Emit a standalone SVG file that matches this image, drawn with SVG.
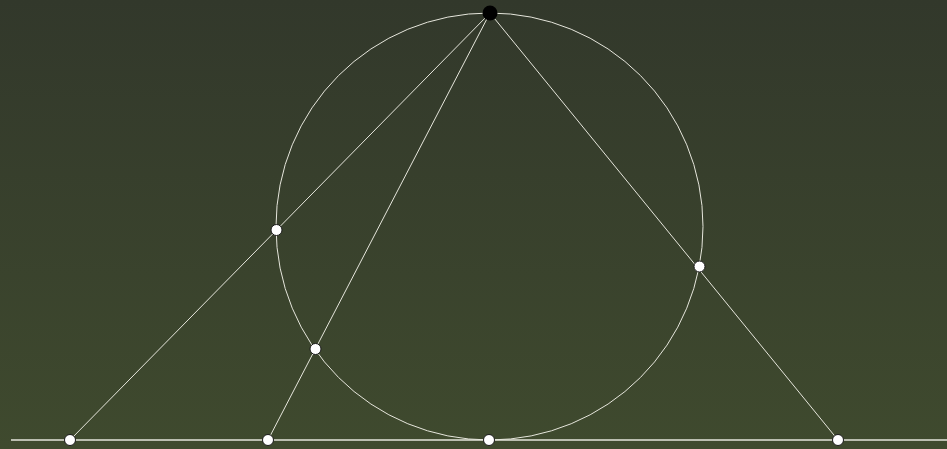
<svg xmlns="http://www.w3.org/2000/svg" width="947" height="449" viewBox="0 0 947 449">
<defs>
<linearGradient id="bg" x1="0" y1="0" x2="0" y2="1">
<stop offset="0" stop-color="#32382b"/>
<stop offset="1" stop-color="#3f4a2e"/>
</linearGradient>
<style>
.ln{stroke:#e6e6dc;stroke-width:1;fill:none}
.pt{fill:#ffffff;stroke:#1a1a1a;stroke-width:1}
</style>
</defs>
<rect x="0" y="0" width="947" height="449" fill="url(#bg)"/>
<g id="connectors">
<circle class="ln" cx="489.5" cy="226.5" r="213.5"/>
<line class="ln" x1="11" y1="440" x2="947" y2="440" style="stroke-width:1.5"/>
<line class="ln" x1="490" y1="13" x2="70" y2="440"/>
<line class="ln" x1="490" y1="13" x2="268" y2="440"/>
<line class="ln" x1="490" y1="13" x2="838" y2="440"/>
</g>
<g id="A"><circle cx="490" cy="13" r="7.5" fill="#000000"/></g>
<g id="P1"><circle class="pt" cx="276.5" cy="230" r="5.5"/></g>
<g id="P2"><circle class="pt" cx="315.5" cy="349" r="5.5"/></g>
<g id="P3"><circle class="pt" cx="699.5" cy="266.5" r="5.5"/></g>
<g id="B1"><circle class="pt" cx="70" cy="440" r="5.5"/></g>
<g id="B2"><circle class="pt" cx="268" cy="440" r="5.5"/></g>
<g id="B3"><circle class="pt" cx="489" cy="440" r="5.5"/></g>
<g id="B4"><circle class="pt" cx="838" cy="440" r="5.5"/></g>
</svg>
